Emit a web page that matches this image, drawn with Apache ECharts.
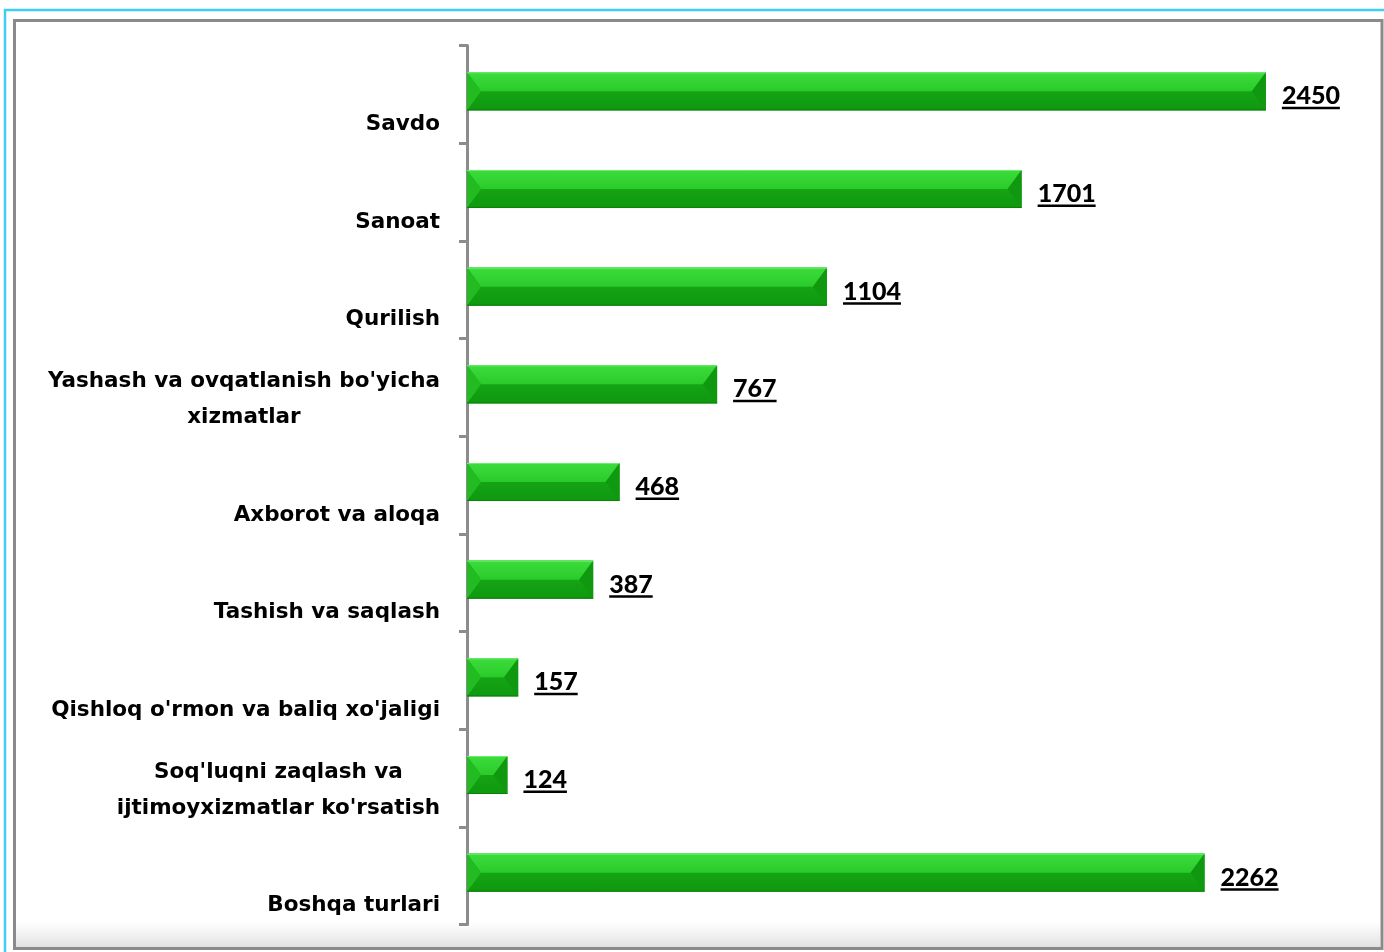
<!DOCTYPE html>
<html>
<head>
<meta charset="utf-8">
<script src="https://cdn.jsdelivr.net/npm/echarts@6/dist/echarts.min.js"></script>
<style>
    html, body { margin: 0; padding: 0; background: #ffffff; }
    #chart { width: 1384px; height: 952px; }
</style>
</head>
<body>
<div id="chart"></div>
<script>
    // categories from top to bottom
    const categories = [
        'Savdo',
        'Sanoat',
        'Qurilish',
        "Yashash va ovqatlanish bo'yicha\nxizmatlar",
        'Axborot va aloqa',
        'Tashish va saqlash',
        "Qishloq o'rmon va baliq xo'jaligi",
        "Soq'luqni zaqlash va\nijtimoyxizmatlar ko'rsatish",
        'Boshqa turlari'
    ];
    const values = [2450, 1701, 1104, 767, 468, 387, 157, 124, 2262];

    const valueFont = '900 25px Lato';
    const measureCtx = document.createElement('canvas').getContext('2d');
    measureCtx.font = valueFont;

    const chart = echarts.init(document.getElementById('chart'));

    // bevelled green bar + underlined value label
    function renderBar(params, api) {
        const val = api.value(0);
        const idx = api.value(1);
        const p0 = api.coord([0, idx]);
        const p1 = api.coord([val, idx]);
        const band = api.size([0, 1])[1];
        const h = band * 0.39;
        const x0 = p0[0], x1 = p1[0];
        const cy = p0[1] - 3;
        const y0 = cy - h / 2, y1 = cy + h / 2, ym = cy;
        const b = Math.min(14, (x1 - x0) / 2);
        const label = String(val);
        const tw = measureCtx.measureText(label).width;
        const lx = x1 + 16;
        return {
            type: 'group',
            children: [
                { type: 'rect', shape: { x: x0, y: y0, width: x1 - x0, height: h },
                  style: { fill: new echarts.graphic.LinearGradient(0, 0, 0, 1, [
                      { offset: 0, color: '#1cb01c' }, { offset: 1, color: '#0e980e' }]) } },
                { type: 'polygon', shape: { points: [[x0, y0], [x1, y0], [x1 - b, ym], [x0 + b, ym]] },
                  style: { fill: new echarts.graphic.LinearGradient(0, 0, 0, 1, [
                      { offset: 0, color: '#3ddc3d' }, { offset: 1, color: '#29cb29' }]) } },
                { type: 'polygon', shape: { points: [[x0, y0], [x0 + b, ym], [x0, y1]] },
                  style: { fill: '#22bb22' } },
                { type: 'polygon', shape: { points: [[x1, y0], [x1 - b, ym], [x1, y1]] },
                  style: { fill: '#109810' } },
                { type: 'line', shape: { x1: x0, y1: y0 + 0.5, x2: x1, y2: y0 + 0.5 },
                  style: { stroke: '#6ef06e', lineWidth: 1 } },
                { type: 'line', shape: { x1: x0, y1: y1 - 0.5, x2: x1, y2: y1 - 0.5 },
                  style: { stroke: '#0a800a', lineWidth: 1 } },
                { type: 'text', x: lx, y: cy + 5,
                  style: { text: label, font: valueFont, fill: '#000000', align: 'left', verticalAlign: 'middle' } },
                { type: 'rect', shape: { x: lx, y: cy + 15.5, width: tw, height: 2.5 },
                  style: { fill: '#000000' } }
            ]
        };
    }

    const labelStyle = { fontFamily: 'DejaVu Sans', fontWeight: 'bold', fontSize: 21.5, color: '#000', lineHeight: 36 };

    chart.setOption({
        backgroundColor: '#ffffff',
        animation: false,
        grid: {
            left: 467,
            right: 4,
            top: 45.5,
            bottom: 27.5
        },
        xAxis: {
            type: 'value',
            min: 0,
            max: 2800,
            show: false
        },
        yAxis: {
            type: 'category',
            inverse: true,
            data: categories,
            offset: 2,
            axisLine: { show: true, lineStyle: { color: '#8c8c8c', width: 3 } },
            axisTick: { show: true, length: 8, lineStyle: { color: '#8c8c8c', width: 3 } },
            axisLabel: {
                margin: 25,
                formatter: function (v) {
                    const lines = v.split('\n');
                    if (lines.length === 1) {
                        return '{s|' + v + '}';
                    }
                    return '{t|' + lines[0] + '}\n{t|' + lines[1] + '}';
                },
                rich: {
                    s: Object.assign({ padding: [60, 0, 0, 0] }, labelStyle),
                    t: Object.assign({ padding: [24, 0, 0, 0], align: 'center' }, labelStyle)
                }
            },
            splitLine: { show: false }
        },
        graphic: [
            {
                type: 'rect',
                shape: { x: 16, y: 922, width: 1364, height: 25 },
                style: { fill: new echarts.graphic.LinearGradient(0, 0, 0, 1, [
                    { offset: 0, color: 'rgba(230,230,230,0)' }, { offset: 1, color: 'rgba(225,225,225,1)' }]) },
                z: -1
            },
            {
                type: 'rect',
                shape: { x: 14.5, y: 20.5, width: 1367.5, height: 928 },
                style: { fill: null, stroke: '#8a8a8a', lineWidth: 3 }
            },
            {
                type: 'polyline',
                shape: { points: [[5, 952], [5, 10], [1384, 10]] },
                style: { fill: null, stroke: '#3dcdf5', lineWidth: 2.5 }
            }
        ],
        series: [
            {
                type: 'custom',
                renderItem: renderBar,
                encode: { x: 0, y: 1 },
                data: values.map(function (v, i) { return [v, i]; })
            }
        ]
    });
</script>
</body>
</html>
